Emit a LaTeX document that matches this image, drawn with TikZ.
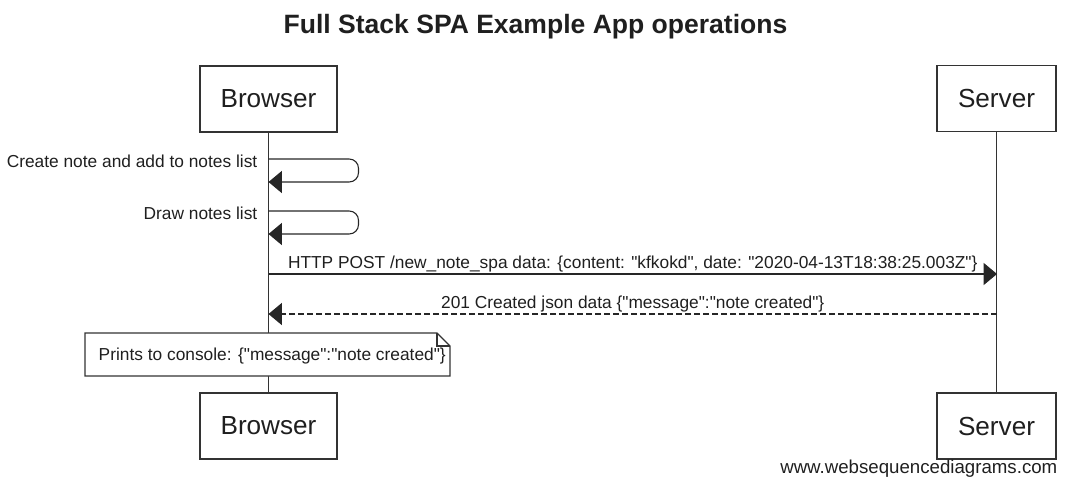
\documentclass[tikz,border=0pt]{standalone}
\usepackage{fontspec}
\setmainfont{Liberation Sans}[Ligatures=TeXOff]
\usetikzlibrary{arrows.meta}

\begin{document}
\begin{tikzpicture}[x=0.75pt,y=-0.75pt,
  every node/.style={text=black!88},
  actor/.style={draw=black!80,line width=1.1pt,fill=white,minimum height=49.5pt,font=\fontsize{19.6}{22}\selectfont},
  lbl/.style={font=\fontsize{13}{15}\selectfont},
  msg/.style={draw=black!85,line width=0.8pt,-{Triangle[length=10pt,width=16.5pt]}},
  reply/.style={msg,dash pattern=on 4.5pt off 2.25pt}]
\useasboundingbox (0,0) rectangle (1069,482);
\node [anchor=base,font=\fontsize{19.9}{22}\selectfont\bfseries] (title) at (535.5,33) {Full Stack SPA Example App operations};
\node [actor,minimum width=102.75pt] (b1) at (268.5,99) {Browser};
\node [actor,minimum width=89.25pt] (s1) at (996.5,98.5) {Server};
\node [actor,minimum width=102.75pt] (b2) at (268.5,426) {Browser};
\node [actor,minimum width=89.25pt] (s2) at (996.5,426) {Server};
\draw [black!80,line width=0.8pt] (b1) -- (b2);
\draw [black!80,line width=0.8pt] (s1) -- (s2);
\foreach \n/\y/\t in {1/159/Create note and add to notes list,2/211/Draw notes list}{
  \coordinate (l\n) at (268.5,\y);
  \coordinate (r\n) at (268.5,\y+23);
  \draw [msg,rounded corners=7] (l\n) -- ++(90,0) -- ++(0,23) -- (r\n);
  \node [lbl,anchor=base east] (t\n) at (262,\y+8) {\t};
}
\coordinate (p1) at (268.5,274);
\coordinate (q1) at (997,274);
\coordinate (p2) at (268.5,314);
\coordinate (q2) at (997,314);
\draw [msg] (p1) -- node [lbl,midway,anchor=base,yshift=4pt] {HTTP POST /new\_note\_spa data: \{content: "kfkokd", date: "2020-04-13T18:38:25.003Z"\}} (q1);
\draw [reply] (q2) -- node [lbl,midway,anchor=base,yshift=4pt] {201 Created json data \{"message":"note created"\}} (p2);
\draw [black!80,line width=0.8pt,fill=white] (85,333) -- (437,333) -- (450,346) -- (450,376) -- (85,376) -- cycle;
\draw [black!80,line width=0.8pt] (437,333) -- (437,346) -- (450,346);
\node [lbl,anchor=base west] (note) at (94,360) {Prints to console: \{"message":"note created"\}};
\node [anchor=base east,font=\fontsize{14}{16}\selectfont] (wsd) at (1062,473) {www.websequencediagrams.com};
\end{tikzpicture}
\end{document}
